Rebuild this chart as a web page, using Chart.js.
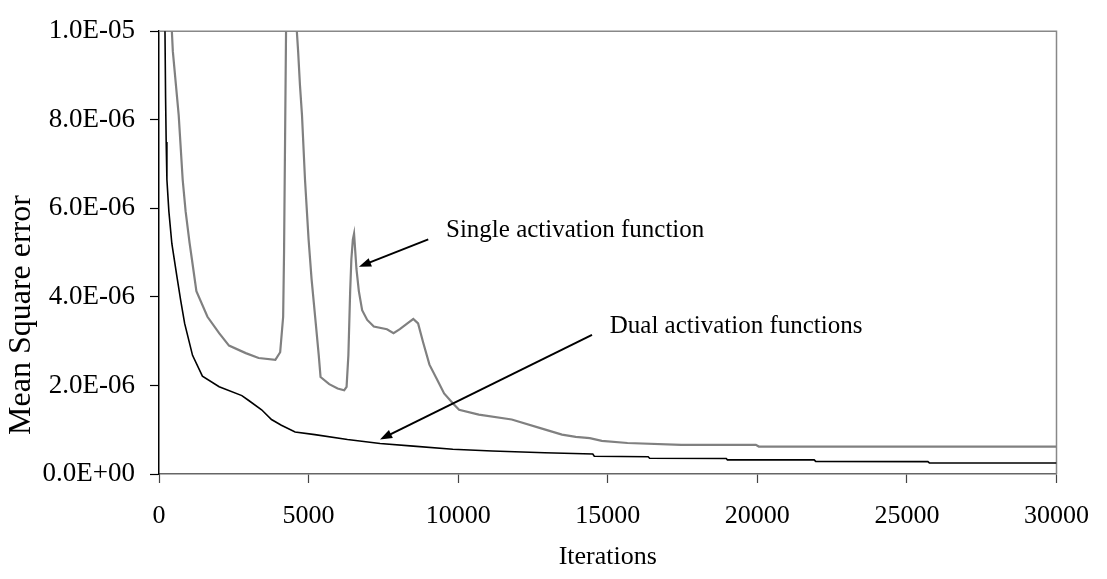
<!DOCTYPE html>
<html>
<head>
<meta charset="utf-8">
<title>Mean Square error vs Iterations</title>
<script src="https://cdn.jsdelivr.net/npm/chart.js@4.4.0/dist/chart.umd.min.js"></script>
<style>
  body { margin: 0; background: #fff; }
</style>
</head>
<body>
<canvas id="myChart" width="1107" height="579"></canvas>
<script>
// values
const singleIter = [380, 430, 462, 659, 791, 890, 1022, 1100, 1250, 1620, 2010, 2340, 2900, 3330, 3890,
  4050, 4150, 4180, 4220, 4260, 4420, 4560, 4650, 4710, 4780, 4880, 5000, 5100, 5240, 5340, 5400,
  5690, 5970, 6190, 6270, 6330, 6390, 6430, 6480, 6520, 6600, 6680, 6790, 6960, 7180, 7620, 7840,
  8050, 8380, 8500, 8660, 8830, 9040, 9320, 9530, 9820, 10030, 10690, 11790, 12830, 13470, 13930,
  14400, 14800, 15660, 17460, 19950, 20050, 30000];
const singleMse = [13.0, 10.0, 9.55, 8.1, 6.65, 5.93, 5.22, 4.85, 4.13, 3.55, 3.18, 2.90, 2.73, 2.62, 2.58,
  2.75, 3.55, 5.0, 8.0, 11.0, 11.5, 10.5, 9.55, 8.8, 8.1, 6.65, 5.3, 4.4, 3.40, 2.68, 2.19,
  2.03, 1.93, 1.89, 1.97, 2.68, 4.13, 4.85, 5.3, 5.43, 4.63, 4.13, 3.70, 3.48, 3.33, 3.27, 3.18,
  3.27, 3.44, 3.50, 3.40, 2.97, 2.47, 2.10, 1.82, 1.60, 1.45, 1.34, 1.23, 1.02, 0.89, 0.84,
  0.81, 0.75, 0.70, 0.66, 0.66, 0.62, 0.62];

const dualIter = [180, 200, 220, 240, 264, 330, 430, 594, 725, 857, 1121, 1451, 2011, 2770, 3000,
  3430, 3760, 4090, 4550, 5210, 6300, 7390, 8500, 9820, 11140, 12890, 14500, 14550, 16350, 16400,
  18960, 19000, 21900, 21950, 25700, 25750, 30000];
const dualMse = [15.0, 10.0, 8.5, 7.5, 6.65, 5.93, 5.2, 4.48, 3.92, 3.40, 2.68, 2.21, 1.97, 1.77, 1.66,
  1.45, 1.23, 1.10, 0.95, 0.89, 0.78, 0.69, 0.63, 0.56, 0.52, 0.48, 0.45, 0.40, 0.39, 0.355,
  0.35, 0.32, 0.32, 0.285, 0.28, 0.25, 0.25];

// mse values above are in units of 1E-06
const mseUnit = 1e-6;

const xTicks = [0, 5000, 10000, 15000, 20000, 25000, 30000];
const yTicks = [0, 2e-6, 4e-6, 6e-6, 8e-6, 1e-5];

// arrows: text anchor, arrow tail, arrow tip (in data units)
const notes = [
  { text: "Single activation function", at: [9594, 5.5e-6], from: [9000, 5.30e-6], to: [6683, 4.68e-6] },
  { text: "Dual activation functions", at: [15067, 3.33e-6], from: [14474, 3.14e-6], to: [7385, 0.78e-6] },
];

const toPoints = (xs, ys) => xs.map((x, i) => ({ x: x, y: ys[i] * mseUnit }));

// excel style 1.0E-05
const sciLabel = (v) => {
  let [m, e] = Number(v).toExponential(1).split("e");
  let sign = e[0] === "-" ? "-" : "+";
  return m + "E" + sign + e.replace(/[+-]/, "").padStart(2, "0");
};

const FONT = "'Liberation Serif', 'Times New Roman', serif";
Chart.defaults.font.family = FONT;
Chart.defaults.color = "#000";

// where the plot area sits in the reference
const area = { left: 159, top: 12, right: 1068, bottom: 474 };

// gray frame on top and right of plot area
const frame = {
  id: "frame",
  beforeDatasetsDraw(chart) {
    const { ctx, chartArea: a } = chart;
    ctx.save();
    ctx.strokeStyle = "#888";
    ctx.lineWidth = 1.5;
    ctx.beginPath();
    ctx.moveTo(a.left, a.top);
    ctx.lineTo(a.right, a.top);
    ctx.lineTo(a.right, a.bottom);
    ctx.stroke();
    ctx.restore();
  },
};

// the y title sits lower than centre and is bigger in the reference
const yTitle = {
  id: "yTitle",
  afterDraw(chart) {
    const { ctx } = chart;
    ctx.save();
    ctx.translate(22, 315);
    ctx.rotate(-Math.PI / 2);
    ctx.font = "32px " + FONT;
    ctx.fillStyle = "#000";
    ctx.textAlign = "center";
    ctx.textBaseline = "middle";
    ctx.fillText("Mean Square error", 0, 0);
    ctx.restore();
  },
};

const arrows = {
  id: "arrows",
  afterDraw(chart) {
    const { ctx } = chart;
    const xs = chart.scales.x;
    const ys = chart.scales.y;
    ctx.save();
    notes.forEach((n) => {
      let x1 = xs.getPixelForValue(n.from[0]);
      let y1 = ys.getPixelForValue(n.from[1]);
      let x2 = xs.getPixelForValue(n.to[0]);
      let y2 = ys.getPixelForValue(n.to[1]);
      let ang = Math.atan2(y2 - y1, x2 - x1);
      let head = 13;
      ctx.strokeStyle = "#000";
      ctx.fillStyle = "#000";
      ctx.lineWidth = 2;
      ctx.beginPath();
      ctx.moveTo(x1, y1);
      ctx.lineTo(x2 - Math.cos(ang) * head * 0.8, y2 - Math.sin(ang) * head * 0.8);
      ctx.stroke();
      ctx.beginPath();
      ctx.moveTo(x2, y2);
      ctx.lineTo(x2 - head * Math.cos(ang - 0.35), y2 - head * Math.sin(ang - 0.35));
      ctx.lineTo(x2 - head * Math.cos(ang + 0.35), y2 - head * Math.sin(ang + 0.35));
      ctx.closePath();
      ctx.fill();
      ctx.font = "25px " + FONT;
      ctx.textAlign = "left";
      ctx.textBaseline = "middle";
      ctx.fillText(n.text, xs.getPixelForValue(n.at[0]), ys.getPixelForValue(n.at[1]));
    });
    ctx.restore();
  },
};

const ctx = document.getElementById("myChart").getContext("2d");
const myChart = new Chart(ctx, {
  type: "line",
  data: {
    datasets: [
      {
        label: "Single activation function",
        data: toPoints(singleIter, singleMse),
        borderColor: "#808080",
        borderWidth: 2.2,
        pointRadius: 0,
        tension: 0,
        clip: 0,
      },
      {
        label: "Dual activation functions",
        data: toPoints(dualIter, dualMse),
        borderColor: "#000",
        borderWidth: 1.6,
        pointRadius: 0,
        tension: 0,
        clip: 0,
      },
    ],
  },
  options: {
    responsive: false,
    animation: false,
    layout: { autoPadding: false, padding: { top: 12, right: 39, left: 0, bottom: 0 } },
    plugins: { legend: { display: false }, tooltip: { enabled: false } },
    scales: {
      x: {
        type: "linear",
        min: 0,
        max: 30000,
        afterFit: (scale) => { scale.height = 105; },
        afterBuildTicks: (scale) => { scale.ticks = xTicks.map((v) => ({ value: v })); },
        ticks: { font: { size: 26 }, padding: 18, maxRotation: 0, callback: (v) => String(v) },
        grid: { drawOnChartArea: false, tickLength: 9, color: "#444", tickWidth: 1.2 },
        border: { display: true, color: "#666", width: 1.5 },
        title: { display: true, text: "Iterations", font: { size: 26 }, padding: { top: 0, bottom: 6 } },
      },
      y: {
        type: "linear",
        min: 0,
        max: 1e-5,
        afterFit: (scale) => { scale.width = 159; },
        afterBuildTicks: (scale) => { scale.ticks = yTicks.map((v) => ({ value: v })); },
        ticks: { font: { size: 27 }, padding: 15, callback: sciLabel },
        grid: { drawOnChartArea: false, tickLength: 9, color: "#000", tickWidth: 1.2 },
        border: { display: true, color: "#000", width: 1.5 },
        title: { display: false },
      },
    },
  },
  plugins: [frame, arrows, yTitle],
});

// nudge the padding until the plot area lands where it is in the reference
const fixArea = () => {
  const a = myChart.chartArea;
  const p = myChart.options.layout.padding;
  p.top += area.top - a.top;
  p.left += area.left - a.left;
  p.right += a.right - area.right;
  p.bottom += a.bottom - area.bottom;
  myChart.update();
};
fixArea();
fixArea();
</script>
</body>
</html>
